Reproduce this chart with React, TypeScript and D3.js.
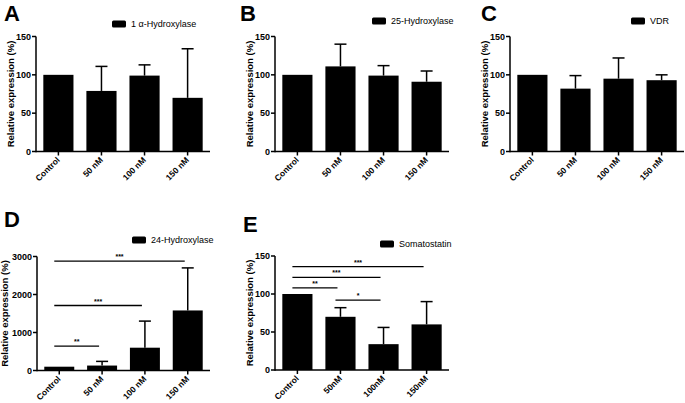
import React from "react";
import * as d3 from "d3";

const categories = ["Control", "50 nM", "100 nM", "150 nM"];
const categoriesE = ["Control", "50nM", "100nM", "150nM"];
const ticksPct = [0, 50, 100, 150];
const ticksD = [0, 1000, 2000, 3000];

const meanA = [100, 79, 99, 70];
const errA = [0, 32, 14, 64];
const meanB = [100, 111, 99, 91];
const errB = [0, 29, 13, 14];
const meanC = [100, 82, 95, 93];
const errC = [0, 17, 27, 7];
const meanD = [100, 130, 600, 1580];
const errD = [0, 110, 700, 1120];
const meanE = [100, 70, 34, 60];
const errE = [0, 12, 22, 30];

const sigD = [
  { from: 0, to: 3, y: 2880, label: "***" },
  { from: 0, to: 2, y: 1710, label: "***" },
  { from: 0, to: 1, y: 640, label: "**" },
];
const sigE = [
  { from: 0, to: 3, y: 136, label: "***" },
  { from: 0, to: 2, y: 122, label: "***" },
  { from: 0, to: 1, y: 108, label: "**" },
  { from: 1, to: 2, y: 92, label: "*" },
];

const FONT = "'Liberation Sans', Arial, sans-serif";

type Sig = { from: number; to: number; y: number; label: string };

function Panel(props: {
  x0: number; x1: number; yb: number; yt: number; max: number; ticks: number[];
  cats: string[]; mean: number[]; err: number[]; sig?: Sig[];
  letter: string; lx: number; ly: number;
  legend: string; legX: number; legY: number; labOff: number;
}) {
  const { x0, x1, yb, yt, max, ticks, cats, mean, err, sig, letter, lx, ly, legend, legX, legY, labOff } = props;
  const x = d3.scaleBand<string>().domain(cats).range([x0, x1]).paddingInner(0.3).paddingOuter(0.17);
  const y = d3.scaleLinear().domain([0, max]).range([yb, yt]);
  const bw = x.bandwidth();
  const cx = (c: string) => (x(c) as number) + bw / 2;
  return (
    <g>
      <text x={lx} y={ly} fontFamily={FONT} fontWeight="bold" fontSize={22}>{letter}</text>
      <rect x={legX} y={legY - 3.5} width={14} height={7} rx={1.5} fill="#000" />
      <text x={legX + 19} y={legY + 3.2} fontFamily={FONT} fontSize={9}>{legend}</text>
      {cats.map((c, i) => (
        <g key={c}>
          {err[i] > 0 && (
            <g stroke="#000" strokeWidth={1.5}>
              <line x1={cx(c)} x2={cx(c)} y1={y(mean[i])} y2={y(mean[i] + err[i])} />
              <line x1={cx(c) - 6} x2={cx(c) + 6} y1={y(mean[i] + err[i])} y2={y(mean[i] + err[i])} />
            </g>
          )}
          <rect x={x(c)} y={y(mean[i])} width={bw} height={yb - y(mean[i])} fill="#000" />
        </g>
      ))}
      {(sig || []).map((s, i) => {
        const a = cx(cats[s.from]) - 5;
        const b = cx(cats[s.to]) - 3;
        return (
          <g key={i}>
            <line x1={a} x2={b} y1={y(s.y)} y2={y(s.y)} stroke="#000" strokeWidth={1.3} />
            <text x={(a + b) / 2} y={y(s.y) - 2} textAnchor="middle" fontFamily={FONT} fontSize={7} fontWeight="bold">{s.label}</text>
          </g>
        );
      })}
      <line x1={x0} x2={x0} y1={yb + 0.75} y2={yt} stroke="#000" strokeWidth={1.5} />
      <line x1={x0} x2={x1} y1={yb} y2={yb} stroke="#000" strokeWidth={1.5} />
      {ticks.map((t) => (
        <g key={t}>
          <line x1={x0 - 4} x2={x0} y1={y(t)} y2={y(t)} stroke="#000" strokeWidth={1.5} />
          <text x={x0 - 5} y={y(t) + 3.2} textAnchor="end" fontFamily={FONT} fontSize={9} fontWeight="bold">{t}</text>
        </g>
      ))}
      {cats.map((c) => (
        <g key={c}>
          <line x1={cx(c)} x2={cx(c)} y1={yb} y2={yb + 4} stroke="#000" strokeWidth={1.5} />
          <text transform={`translate(${cx(c) + 2},${yb + 9}) rotate(-45)`} textAnchor="end" fontFamily={FONT} fontSize={8.5} fontWeight="bold">{c}</text>
        </g>
      ))}
      <text transform={`translate(${x0 - labOff},${(yb + yt) / 2}) rotate(-90)`} textAnchor="middle" fontFamily={FONT} fontSize={9.5} fontWeight="bold">Relative expression (%)</text>
    </g>
  );
}

export default function App() {
  return (
    <svg width={685} height={403} style={{ position: "absolute", left: 0, top: 0, background: "#fff" }}>
      <Panel x0={36} x1={210} yb={151.5} yt={36.5} max={150} ticks={ticksPct} cats={categories} mean={meanA} err={errA}
        letter="A" lx={4} ly={21} legend="1 α-Hydroxylase" legX={112} legY={24} labOff={22} />
      <Panel x0={275} x1={449} yb={151.5} yt={36.5} max={150} ticks={ticksPct} cats={categories} mean={meanB} err={errB}
        letter="B" lx={240} ly={21} legend="25-Hydroxylase" legX={372} legY={21} labOff={22} />
      <Panel x0={510} x1={684} yb={151.5} yt={36.5} max={150} ticks={ticksPct} cats={categories} mean={meanC} err={errC}
        letter="C" lx={481} ly={21} legend="VDR" legX={631} legY={21} labOff={22} />
      <Panel x0={37} x1={210} yb={370.5} yt={256.5} max={3000} ticks={ticksD} cats={categories} mean={meanD} err={errD} sig={sigD}
        letter="D" lx={4} ly={227} legend="24-Hydroxylase" legX={132} legY={240} labOff={29} />
      <Panel x0={275} x1={449} yb={370} yt={256} max={150} ticks={ticksPct} cats={categoriesE} mean={meanE} err={errE} sig={sigE}
        letter="E" lx={243} ly={232} legend="Somatostatin" legX={380} legY={244} labOff={22} />
    </svg>
  );
}
